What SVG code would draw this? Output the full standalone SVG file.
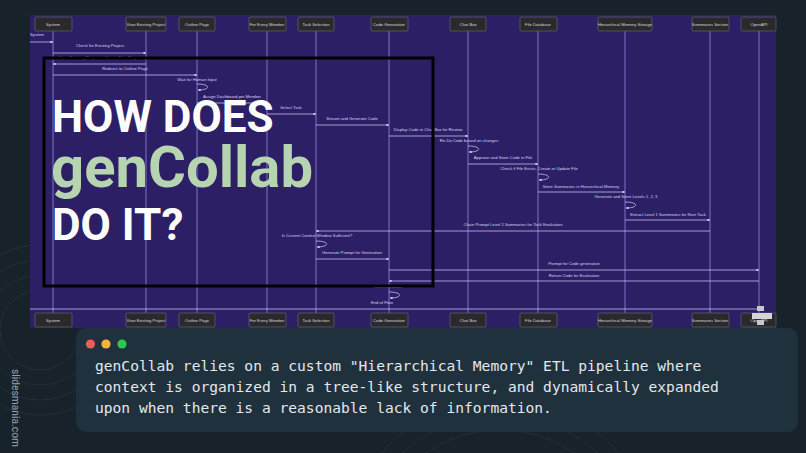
<svg xmlns="http://www.w3.org/2000/svg" width="806" height="453" viewBox="0 0 806 453">
<defs>
<style>
.pbox{fill:#2a2a2c;stroke:#5a5a66;stroke-width:0.8}
.ptxt{font-family:"Liberation Sans",Arial,sans-serif;font-size:4.2px;fill:#d8d8dc;text-anchor:middle}
.life{stroke:#7f74c9;stroke-width:1}
.msg{stroke:#c3bcec;stroke-width:0.8;fill:none}
.mtxt{font-family:"Liberation Sans",Arial,sans-serif;font-size:4.2px;fill:#d6d2f0;text-anchor:middle}
.title{font-family:Roboto,"Liberation Sans",sans-serif;font-weight:700;font-size:44px;fill:#ffffff}
.body{font-family:"DejaVu Sans Mono","Liberation Mono",monospace;font-size:14.6px;fill:#e4e8ec}
.deco{fill:none;stroke:#223039;stroke-width:1}
</style>
<marker id="ah" viewBox="0 0 6 6" refX="5.5" refY="3" markerWidth="3.5" markerHeight="3.5" orient="auto-start-reverse">
<path d="M0,0 L6,3 L0,6 z" fill="#dcd8f6"/>
</marker>
</defs>
<rect x="0" y="0" width="806" height="453" fill="#17222b"/>
<g id="decoration">
<circle class="deco" cx="40" cy="330" r="40"/>
<circle class="deco" cx="40" cy="330" r="55"/>
<circle class="deco" cx="40" cy="330" r="70"/>
<circle class="deco" cx="40" cy="330" r="85"/>
<circle class="deco" cx="500" cy="560" r="130"/>
<circle class="deco" cx="500" cy="560" r="145"/>
<circle class="deco" cx="500" cy="560" r="160"/>
</g>
<rect id="diagram-bg" x="30" y="15" width="746" height="313" fill="#2d1f66"/>
<g id="lifelines">
<line class="life" x1="53" y1="31" x2="53" y2="313"/>
<line class="life" x1="146" y1="31" x2="146" y2="313"/>
<line class="life" x1="197" y1="31" x2="197" y2="313"/>
<line class="life" x1="267" y1="31" x2="267" y2="313"/>
<line class="life" x1="316" y1="31" x2="316" y2="313"/>
<line class="life" x1="389" y1="31" x2="389" y2="313"/>
<line class="life" x1="468" y1="31" x2="468" y2="313"/>
<line class="life" x1="538" y1="31" x2="538" y2="313"/>
<line class="life" x1="625" y1="31" x2="625" y2="313"/>
<line class="life" x1="710" y1="31" x2="710" y2="313"/>
<line class="life" x1="759" y1="31" x2="759" y2="313"/>
</g>
<g id="p-system"><rect class="pbox" x="35" y="17" width="37" height="14" rx="1"/><text class="ptxt" x="53" y="25.5">System</text><rect class="pbox" x="35" y="313" width="37" height="14" rx="1"/><text class="ptxt" x="53" y="321.5">System</text></g>
<g id="p-view"><rect class="pbox" x="126" y="17" width="40" height="14" rx="1"/><text class="ptxt" x="146" y="25.5">View Existing Project</text><rect class="pbox" x="126" y="313" width="40" height="14" rx="1"/><text class="ptxt" x="146" y="321.5">View Existing Project</text></g>
<g id="p-outline"><rect class="pbox" x="179" y="17" width="36" height="14" rx="1"/><text class="ptxt" x="197" y="25.5">Outline Page</text><rect class="pbox" x="179" y="313" width="36" height="14" rx="1"/><text class="ptxt" x="197" y="321.5">Outline Page</text></g>
<g id="p-member"><rect class="pbox" x="249" y="17" width="37" height="14" rx="1"/><text class="ptxt" x="267" y="25.5">For Every Member</text><rect class="pbox" x="249" y="313" width="37" height="14" rx="1"/><text class="ptxt" x="267" y="321.5">For Every Member</text></g>
<g id="p-task"><rect class="pbox" x="298" y="17" width="36" height="14" rx="1"/><text class="ptxt" x="316" y="25.5">Task Selection</text><rect class="pbox" x="298" y="313" width="36" height="14" rx="1"/><text class="ptxt" x="316" y="321.5">Task Selection</text></g>
<g id="p-code"><rect class="pbox" x="371" y="17" width="37" height="14" rx="1"/><text class="ptxt" x="389" y="25.5">Code Generation</text><rect class="pbox" x="371" y="313" width="37" height="14" rx="1"/><text class="ptxt" x="389" y="321.5">Code Generation</text></g>
<g id="p-chat"><rect class="pbox" x="450" y="17" width="36" height="14" rx="1"/><text class="ptxt" x="468" y="25.5">Chat Box</text><rect class="pbox" x="450" y="313" width="36" height="14" rx="1"/><text class="ptxt" x="468" y="321.5">Chat Box</text></g>
<g id="p-filedb"><rect class="pbox" x="520" y="17" width="37" height="14" rx="1"/><text class="ptxt" x="538" y="25.5">File Database</text><rect class="pbox" x="520" y="313" width="37" height="14" rx="1"/><text class="ptxt" x="538" y="321.5">File Database</text></g>
<g id="p-hms"><rect class="pbox" x="598" y="17" width="54" height="14" rx="1"/><text class="ptxt" x="625" y="25.5">Hierarchical Memory Storage</text><rect class="pbox" x="598" y="313" width="54" height="14" rx="1"/><text class="ptxt" x="625" y="321.5">Hierarchical Memory Storage</text></g>
<g id="p-summ"><rect class="pbox" x="692" y="17" width="37" height="14" rx="1"/><text class="ptxt" x="710" y="25.5">Summaries Section</text><rect class="pbox" x="692" y="313" width="37" height="14" rx="1"/><text class="ptxt" x="710" y="321.5">Summaries Section</text></g>
<g id="p-openapi"><rect class="pbox" x="741" y="17" width="35" height="14" rx="1"/><text class="ptxt" x="759" y="25.5">OpenAPI</text><rect class="pbox" x="741" y="313" width="35" height="14" rx="1"/><text class="ptxt" x="759" y="321.5">OpenAPI</text>
<rect x="757" y="306" width="7" height="5" fill="#c8c8cc"/><rect x="752" y="313" width="20" height="6" fill="#d4d4d8"/><rect x="757" y="320" width="7" height="5" fill="#c8c8cc"/></g>
<g id="connectors">
<text class="mtxt" x="30" y="36" style="text-anchor:start">System</text>
<line class="msg" x1="30" y1="42" x2="53" y2="42" marker-end="url(#ah)"/>
<text class="mtxt" x="100" y="47">Check for Existing Project</text>
<line class="msg" x1="53" y1="53" x2="146" y2="53" marker-end="url(#ah)"/>
<text class="mtxt" x="100" y="59">Open Existing Project or Create New Project</text>
<line class="msg" x1="146" y1="64" x2="53" y2="64" marker-end="url(#ah)"/>
<text class="mtxt" x="125" y="70">Redirect to Outline Page</text>
<line class="msg" x1="53" y1="75" x2="197" y2="75" marker-end="url(#ah)"/>
<text class="mtxt" x="197" y="81">Wait for Human Input</text>
<path class="msg" d="M197,84 C211,84 211,90 198,90" marker-end="url(#ah)"/>
<text class="mtxt" x="232" y="98">Assign Dashboard per Member</text>
<line class="msg" x1="197" y1="103" x2="267" y2="103" marker-end="url(#ah)"/>
<text class="mtxt" x="291" y="109">Select Task</text>
<line class="msg" x1="267" y1="114" x2="316" y2="114" marker-end="url(#ah)"/>
<text class="mtxt" x="352" y="120">Stream and Generate Code</text>
<line class="msg" x1="316" y1="125" x2="389" y2="125" marker-end="url(#ah)"/>
<text class="mtxt" x="428" y="131">Display Code in Chat Box for Review</text>
<line class="msg" x1="389" y1="136" x2="468" y2="136" marker-end="url(#ah)"/>
<text class="mtxt" x="469" y="142">Re-Do Code based on changes</text>
<path class="msg" d="M468,146 C482,146 482,152 469,152" marker-end="url(#ah)"/>
<text class="mtxt" x="503" y="159">Approve and Store Code in File</text>
<line class="msg" x1="468" y1="164" x2="538" y2="164" marker-end="url(#ah)"/>
<text class="mtxt" x="539" y="170">Check if File Exists, Create or Update File</text>
<path class="msg" d="M538,174 C552,174 552,180 539,180" marker-end="url(#ah)"/>
<text class="mtxt" x="581" y="188">Store Summaries in Hierarchical Memory</text>
<line class="msg" x1="538" y1="192" x2="625" y2="192" marker-end="url(#ah)"/>
<text class="mtxt" x="626" y="198">Generate and Store Levels 1, 2, 3</text>
<path class="msg" d="M625,202 C639,202 639,208 626,208" marker-end="url(#ah)"/>
<text class="mtxt" x="668" y="216">Extract Level 1 Summaries for Next Task</text>
<line class="msg" x1="625" y1="220" x2="710" y2="220" marker-end="url(#ah)"/>
<text class="mtxt" x="513" y="226">Chain Prompt Level 1 Summaries for Task Evaluation</text>
<line class="msg" x1="710" y1="231" x2="316" y2="231" marker-end="url(#ah)"/>
<text class="mtxt" x="317" y="237">Is Current Context Window Sufficient?</text>
<path class="msg" d="M316,241 C330,241 330,247 317,247" marker-end="url(#ah)"/>
<text class="mtxt" x="352" y="254">Generate Prompt for Generation</text>
<line class="msg" x1="316" y1="259" x2="389" y2="259" marker-end="url(#ah)"/>
<text class="mtxt" x="574" y="265">Prompt for Code generation</text>
<line class="msg" x1="389" y1="270" x2="759" y2="270" marker-end="url(#ah)"/>
<text class="mtxt" x="574" y="277">Return Code for Evaluation</text>
<line class="msg" x1="759" y1="281" x2="389" y2="281" marker-end="url(#ah)"/>
<text class="mtxt" x="388" y="288">Run Evaluation</text>
<path class="msg" d="M389,292 C403,292 403,298 390,298" marker-end="url(#ah)"/>
<text class="mtxt" x="382" y="304">End of Flow</text>
<line class="msg" x1="30" y1="309" x2="760" y2="309"/>
</g>
<g id="title-overlay">
<rect x="44" y="58" width="389" height="228" fill="none" stroke="#000000" stroke-width="3"/>
<text class="title" x="52" y="132">HOW DOES</text>
<text class="title" x="51" y="187" style="font-size:58px;fill:#b6d4b0">genCollab</text>
<text class="title" x="52" y="240">DO IT?</text>
</g>
<g id="caption-panel">
<rect x="76" y="328" width="722" height="104" rx="10" fill="#20313e"/>
<circle cx="90.5" cy="344" r="4.6" fill="#ee5b5b"/>
<circle cx="106" cy="344" r="4.6" fill="#f4b534"/>
<circle cx="122" cy="344" r="4.6" fill="#2fc551"/>
<text class="body" x="95" y="371">genCollab relies on a custom "Hierarchical Memory" ETL pipeline where</text>
<text class="body" x="95" y="392">context is organized in a tree-like structure, and dynamically expanded</text>
<text class="body" x="95" y="412.5">upon when there is a reasonable lack of information.</text>
</g>
<text x="12" y="369" transform="rotate(90 12 369)" font-family="Roboto,'Liberation Sans',sans-serif" font-size="10.5" textLength="78" lengthAdjust="spacingAndGlyphs" fill="#9aa3ab">slidesmania.com</text>
</svg>
